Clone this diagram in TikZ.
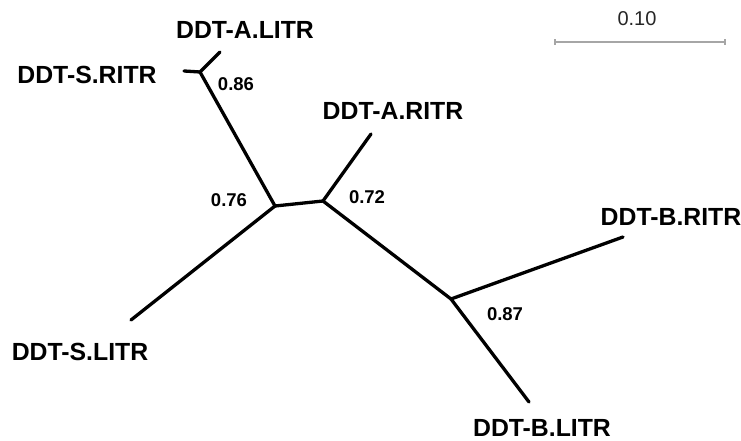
\documentclass[tikz,border=0pt]{standalone}
\usepackage{fontspec}
\setmainfont{Liberation Sans}
\begin{document}
\begin{tikzpicture}[x=1bp,y=-1bp,
  branch/.style={line width=3.3bp,line cap=round,line join=round},
  leaf/.style={font=\fontsize{24.8bp}{28bp}\selectfont\bfseries,inner sep=0pt,anchor=center},
  support/.style={font=\fontsize{18.5bp}{21bp}\selectfont\bfseries,inner sep=0pt,anchor=center},
  scalebar/.style={line width=1.2bp,draw=gray!70}]
\useasboundingbox (0,0) rectangle (741,441);
% internal nodes
\coordinate (n1) at (200,72);
\coordinate (n2) at (275,206);
\coordinate (n3) at (323,201);
\coordinate (n4) at (451,299);
% tips
\coordinate (tAL) at (220,52);
\coordinate (tSR) at (184,71);
\coordinate (tAR) at (371,134);
\coordinate (tBR) at (623,237);
\coordinate (tBL) at (529,402);
\coordinate (tSL) at (131,320);
% branches
\draw[branch] (tAL) -- (n1) -- (tSR);
\draw[branch] (n1) -- (n2) -- (n3) -- (tAR);
\draw[branch] (n2) -- (tSL);
\draw[branch] (n3) -- (n4) -- (tBR);
\draw[branch] (n4) -- (tBL);
% leaf labels
\node[leaf] (lAL) at (245,30) {DDT-A.LITR};
\node[leaf] (lSR) at (87,75) {DDT-S.RITR};
\node[leaf] (lAR) at (393,111) {DDT-A.RITR};
\node[leaf] (lBR) at (671,217) {DDT-B.RITR};
\node[leaf] (lSL) at (80,352) {DDT-S.LITR};
\node[leaf] (lBL) at (542,428) {DDT-B.LITR};
% support values
\node[support] (s86) at (236,84) {0.86};
\node[support] (s76) at (229,200) {0.76};
\node[support] (s72) at (367,197) {0.72};
\node[support] (s87) at (505,314) {0.87};
% scale bar
\coordinate (sb1) at (555,42);
\coordinate (sb2) at (725,42);
\draw[scalebar] (sb1) -- (sb2);
\draw[scalebar] ([yshift=-3]sb1) -- ([yshift=3]sb1);
\draw[scalebar] ([yshift=-3]sb2) -- ([yshift=3]sb2);
\node[font=\fontsize{20bp}{23bp}\selectfont,inner sep=0pt,text=black!85] (sbl) at (637,19) {0.10};
\end{tikzpicture}
\end{document}
